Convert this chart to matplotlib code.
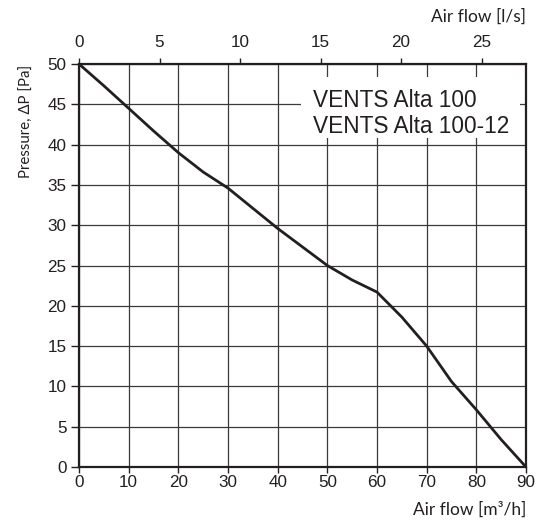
import matplotlib
matplotlib.use("Agg")
import matplotlib.pyplot as plt
from matplotlib.patches import Rectangle

# Data
flow_m3h = [0, 5, 10, 15, 20, 25, 30, 35, 40, 45, 50, 55, 60, 65, 70, 75, 80, 85, 90]
pressure_pa = [50, 47.3, 44.5, 41.7, 39.0, 36.6, 34.6, 32.1, 29.6, 27.3, 25.0, 23.2, 21.7,
               18.6, 15.0, 10.6, 7.1, 3.4, 0]
x_ticks = [0, 10, 20, 30, 40, 50, 60, 70, 80, 90]
y_ticks = [0, 5, 10, 15, 20, 25, 30, 35, 40, 45, 50]
top_ticks = [0, 5, 10, 15, 20, 25]
top_max_ls = 27.76
legend_lines = ["VENTS Alta 100", "VENTS Alta 100-12"]

W, H = 553, 523
fig = plt.figure(figsize=(W / 100, H / 100), dpi=100)
ax = fig.add_axes([79 / W, 1 - 467 / H, 447 / W, 403 / H])

tick_font = "Liberation Sans"
label_font = "Lato"
text_col = "#231f20"

ax.plot(flow_m3h, pressure_pa, color="#231f20", lw=2.0, zorder=3, solid_capstyle="butt")
ax.set_xlim(0, 90)
ax.set_ylim(0, 50)
ax.set_xticks(x_ticks)
ax.set_yticks(y_ticks)
ax.set_axisbelow(True)
ax.grid(True, color="#3a3a3a", lw=0.9)

for s in ax.spines.values():
    s.set_linewidth(1.6)
    s.set_color("#231f20")
    s.set_zorder(5)

ax.tick_params(axis="x", direction="out", length=4, width=1, pad=2, labelsize=12.3,
               colors=text_col)
ax.tick_params(axis="y", direction="out", length=6, width=1, pad=3, labelsize=12.3,
               colors=text_col)
for lab in ax.get_xticklabels() + ax.get_yticklabels():
    lab.set_family(tick_font)

# Top axis (l/s)
ax2 = ax.twiny()
ax2.set_xlim(0, top_max_ls)
ax2.set_xticks(top_ticks)
ax2.tick_params(axis="x", direction="out", length=4, width=1, pad=6, labelsize=12.3,
                colors=text_col)
for lab in ax2.get_xticklabels():
    lab.set_family(tick_font)
for s in ax2.spines.values():
    s.set_visible(False)

# White legend box
ax.add_patch(Rectangle((44.7, 40.8), 88.8 - 44.7, 48.4 - 40.8, facecolor="white",
                       edgecolor="none", zorder=1.5))
ax.text(47.05, 44.7, legend_lines[0], fontsize=16.3, family=tick_font, color=text_col,
        va="baseline", ha="left", zorder=4)
ax.text(47.05, 41.5, legend_lines[1], fontsize=16.3, family=tick_font, color=text_col,
        va="baseline", ha="left", zorder=4)

# Axis labels
fig.text(526 / W, 1 - 510 / H, "Air flow [m³/h]", ha="right", va="center",
         fontsize=12.5, family=label_font, color=text_col)
fig.text(526 / W, 1 - 16.5 / H, "Air flow [l/s]", ha="right", va="center",
         fontsize=12.5, family=label_font, color=text_col)
fig.text(27 / W, 1 - 65 / H, "Pressure, ΔP [Pa]", ha="center", va="top", rotation=90,
         fontsize=10.8, family=label_font, color=text_col)

fig.savefig("out.png", dpi=100)
